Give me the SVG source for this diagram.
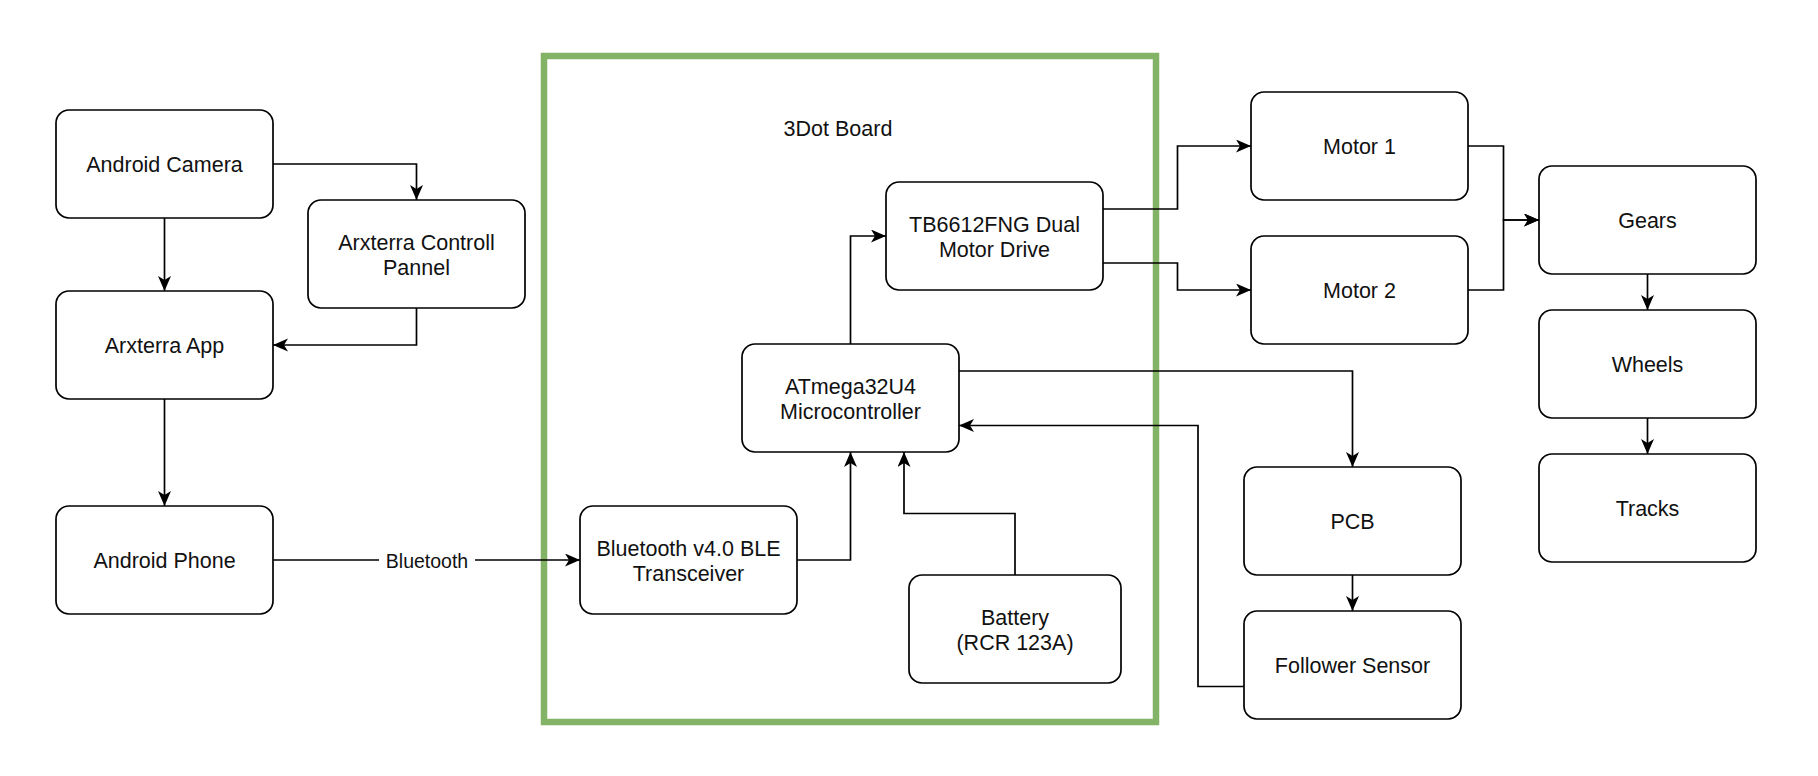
<svg xmlns="http://www.w3.org/2000/svg" width="1818" height="776" viewBox="0 0 1818 776">
<style>
.box{fill:#fff;stroke:#000;stroke-width:1.7}
.t{font-family:"Liberation Sans",Arial,sans-serif;font-size:21.5px;fill:#111;text-anchor:middle}
.lbl{font-family:"Liberation Sans",Arial,sans-serif;font-size:19.5px;fill:#111;text-anchor:middle}
.c{fill:none;stroke:#000;stroke-width:1.7}
.ca{fill:none;stroke:#000;stroke-width:1.7;marker-end:url(#arr)}
</style>
<defs>
<marker id="arr" markerUnits="userSpaceOnUse" markerWidth="16" markerHeight="14" refX="15" refY="6.5" orient="auto">
<path d="M0,0 L15,6.5 L0,13 L4,6.5 Z" fill="#000"/>
</marker>
</defs>
<rect width="1818" height="776" fill="#fff"/>
<g id="board">
<rect x="544" y="56" width="612" height="666" fill="none" stroke="#82b366" stroke-width="6.5"/>
<text class="t" x="838" y="136">3Dot Board</text>
</g>
<g id="connectors">
<path class="ca" d="M273,164 H416.5 V200"/>
<path class="ca" d="M164.5,218 V291"/>
<path class="ca" d="M416.5,308 V345 H273"/>
<path class="ca" d="M164.5,399 V506"/>
<path class="c" d="M273,560 H379"/>
<path class="ca" d="M475,560 H580"/>
<text class="lbl" x="427" y="567.5">Bluetooth</text>
<path class="ca" d="M797,560 H850.5 V452"/>
<path class="ca" d="M1015,575 V513.5 H904 V452"/>
<path class="ca" d="M850.5,344 V236 H886"/>
<path class="ca" d="M1103,209 H1177.5 V146 H1251"/>
<path class="ca" d="M1103,263 H1177.5 V290 H1251"/>
<path class="ca" d="M1468,146 H1503.5 V220 H1539"/>
<path class="ca" d="M1468,290 H1503.5 V220 H1539"/>
<path class="ca" d="M959,371 H1352.5 V467"/>
<path class="ca" d="M1352.5,575 V611"/>
<path class="ca" d="M1244,686.5 H1198 V425.5 H959"/>
<path class="ca" d="M1647.5,274 V310"/>
<path class="ca" d="M1647.5,418 V454"/>
</g>
<g id="camera"><rect class="box" x="56" y="110" width="217" height="108" rx="13"/><text class="t" x="164.5" y="172">Android Camera</text></g>
<g id="panel"><rect class="box" x="308" y="200" width="217" height="108" rx="13"/><text class="t" x="416.5" y="249.5">Arxterra Controll</text><text class="t" x="416.5" y="274.5">Pannel</text></g>
<g id="app"><rect class="box" x="56" y="291" width="217" height="108" rx="13"/><text class="t" x="164.5" y="353">Arxterra App</text></g>
<g id="phone"><rect class="box" x="56" y="506" width="217" height="108" rx="13"/><text class="t" x="164.5" y="568">Android Phone</text></g>
<g id="ble"><rect class="box" x="580" y="506" width="217" height="108" rx="13"/><text class="t" x="688.5" y="555.5">Bluetooth v4.0 BLE</text><text class="t" x="688.5" y="580.5">Transceiver</text></g>
<g id="mcu"><rect class="box" x="742" y="344" width="217" height="108" rx="13"/><text class="t" x="850.5" y="393.5">ATmega32U4</text><text class="t" x="850.5" y="418.5">Microcontroller</text></g>
<g id="driver"><rect class="box" x="886" y="182" width="217" height="108" rx="13"/><text class="t" x="994.5" y="231.5">TB6612FNG Dual</text><text class="t" x="994.5" y="256.5">Motor Drive</text></g>
<g id="battery"><rect class="box" x="909" y="575" width="212" height="108" rx="13"/><text class="t" x="1015" y="624.5">Battery</text><text class="t" x="1015" y="649.5">(RCR 123A)</text></g>
<g id="motor1"><rect class="box" x="1251" y="92" width="217" height="108" rx="13"/><text class="t" x="1359.5" y="154">Motor 1</text></g>
<g id="motor2"><rect class="box" x="1251" y="236" width="217" height="108" rx="13"/><text class="t" x="1359.5" y="298">Motor 2</text></g>
<g id="pcb"><rect class="box" x="1244" y="467" width="217" height="108" rx="13"/><text class="t" x="1352.5" y="529">PCB</text></g>
<g id="follower"><rect class="box" x="1244" y="611" width="217" height="108" rx="13"/><text class="t" x="1352.5" y="673">Follower Sensor</text></g>
<g id="gears"><rect class="box" x="1539" y="166" width="217" height="108" rx="13"/><text class="t" x="1647.5" y="228">Gears</text></g>
<g id="wheels"><rect class="box" x="1539" y="310" width="217" height="108" rx="13"/><text class="t" x="1647.5" y="372">Wheels</text></g>
<g id="tracks"><rect class="box" x="1539" y="454" width="217" height="108" rx="13"/><text class="t" x="1647.5" y="516">Tracks</text></g>
</svg>
